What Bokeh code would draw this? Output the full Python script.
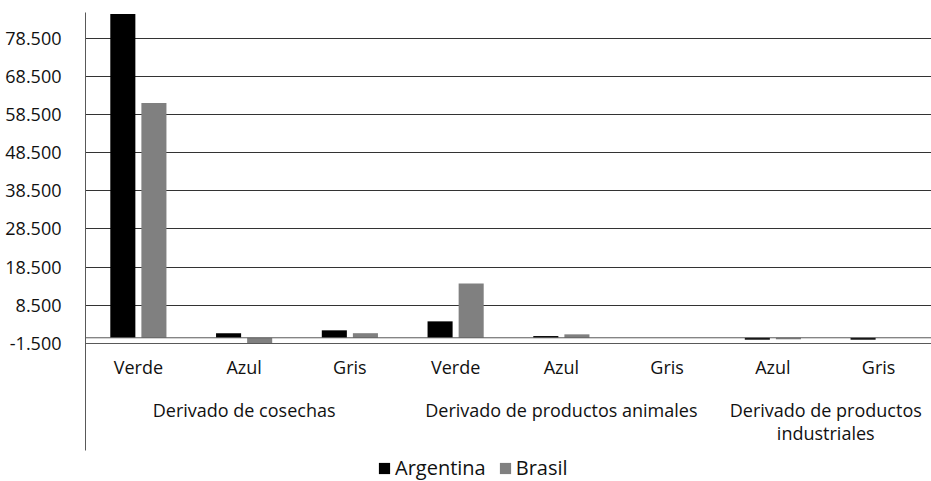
from bokeh.plotting import figure
from bokeh.models import (ColumnDataSource, Range1d, FixedTicker, Span, Legend, LegendItem)
from bokeh.transform import dodge
from bokeh.core.properties import value
from bokeh.embed import file_html
from bokeh.resources import INLINE

# ---- data ----
groups = ["Derivado de cosechas"] * 3 + ["Derivado de productos animales"] * 3 + \
         ["Derivado de productos industriales"] * 2
categories = ["Verde", "Azul", "Gris", "Verde", "Azul", "Gris", "Azul", "Gris"]
argentina = [84800, 1200, 1950, 4300, 450, 0, -500, -500]
brasil = [61500, -1450, 1200, 14200, 900, 0, -400, 0]
series_names = ["Argentina", "Brasil"]
y_ticks = [-1500, 8500, 18500, 28500, 38500, 48500, 58500, 68500, 78500]
y_tick_labels = ["-1.500", "8.500", "18.500", "28.500", "38.500", "48.500",
                 "58.500", "68.500", "78.500"]
group_labels = {
    "Derivado de cosechas": "Derivado de cosechas",
    "Derivado de productos animales": "Derivado de productos animales",
    "Derivado de productos industriales": "Derivado de productos\nindustriales",
}

FONT = "Open Sans"
TXT = "#111111"
Y_MIN, Y_MAX = -1500, 85200          # value range of the plotting area
W, H = 931, 481
TOP, LEFT = 12, 85                   # plot-area origin in px
AREA_H = 331                         # px height of the value area (Y_MIN..Y_MAX)
LABEL_BAND = H - TOP - AREA_H        # label band below the value area
AXIS_EXT = 107                       # px the vertical axis line runs below Y_MIN

units_per_px = (Y_MAX - Y_MIN) / AREA_H
Y_LOW = Y_MIN - LABEL_BAND * units_per_px

# category slots on a numeric axis: slot i is centred on i + 0.5
pos = [i + 0.5 for i in range(len(categories))]
src = ColumnDataSource(dict(pos=pos, arg=argentina, bra=brasil, cat=categories,
                            base=[Y_MIN] * len(categories)))

group_names = list(dict.fromkeys(groups))
group_centres = []
for g in group_names:
    idx = [i for i, gg in enumerate(groups) if gg == g]
    group_centres.append((idx[0] + idx[-1] + 1) / 2)
gsrc = ColumnDataSource(dict(x=group_centres, text=[group_labels[g] for g in group_names],
                             base=[Y_MIN] * len(group_names)))

p = figure(width=W, height=H, output_backend="svg", toolbar_location=None,
           x_range=Range1d(0, len(categories)), y_range=Range1d(Y_LOW, Y_MAX),
           x_axis_type=None,
           min_border_left=LEFT, min_border_right=0, min_border_top=TOP,
           min_border_bottom=0)
p.outline_line_color = None
p.background_fill_color = "white"
p.border_fill_color = "white"

r_arg = p.vbar(x=dodge("pos", -0.147), top="arg", bottom=0, width=0.237,
               source=src, fill_color="#000000", line_color=None)
r_bra = p.vbar(x=dodge("pos", 0.147), top="bra", bottom=0, width=0.237,
               source=src, fill_color="#808080", line_color=None)

# y axis
ya = p.yaxis[0]
ya.ticker = FixedTicker(ticks=y_ticks, minor_ticks=[])
ya.major_label_overrides = dict(zip(y_ticks, y_tick_labels))
ya.bounds = (Y_MIN - AXIS_EXT * units_per_px, Y_MAX)
ya.axis_line_color = "#595959"
ya.major_tick_line_color = None
ya.minor_tick_line_color = None
ya.major_label_standoff = 18
ya.major_label_text_font = FONT
ya.major_label_text_font_size = "18px"
ya.major_label_text_color = TXT

p.ygrid.ticker = FixedTicker(ticks=y_ticks, minor_ticks=[])
p.ygrid.grid_line_color = "#333333"
p.xgrid.visible = False

# category axis line (at zero) and bottom line
p.add_layout(Span(location=0, dimension="width", line_color="#595959", line_width=1))
p.add_layout(Span(location=Y_MIN, dimension="width", line_color="#595959", line_width=1))

# sub-category labels
p.text(x="pos", y="base", text="cat", source=src, y_offset=23,
       text_align="center", text_baseline="middle",
       text_font=value(FONT), text_font_size="18px", text_color=TXT)

# group labels
p.text(x="x", y="base", text="text", source=gsrc, y_offset=54,
       text_align="center", text_baseline="top", text_line_height=0.98,
       text_font=value(FONT), text_font_size="18px", text_color=TXT)

legend = Legend(items=[LegendItem(label=series_names[0], renderers=[r_arg]),
                       LegendItem(label=series_names[1], renderers=[r_bra])],
                orientation="horizontal", location=(292, 0),
                glyph_width=14, glyph_height=14, label_standoff=4, spacing=12,
                label_height=22,
                padding=0, margin=0, border_line_color=None, background_fill_alpha=0,
                label_text_font=FONT, label_text_font_size="20px", label_text_color=TXT)
p.add_layout(legend, "center")

open("out.html", "w").write(file_html(p, INLINE))
